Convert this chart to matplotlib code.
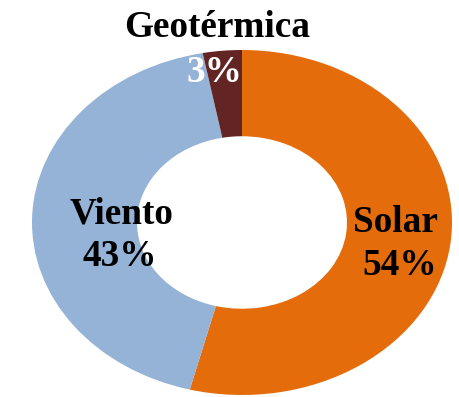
import matplotlib.pyplot as plt

plt.rcParams['font.family'] = ['Liberation Serif', 'DejaVu Serif']

# Energy mix shares (%)
fuentes = ["Solar", "Viento", "Geotérmica"]
porcentajes = [54, 43, 3]
colores = ["#E46C0A", "#95B3D7", "#632523"]

fig = plt.figure(figsize=(4.59, 3.97), dpi=100)
W, H = 459, 397
# axes box spans the donut's bounding box (pixels)
left, right, top, bottom = 32, 452, 50, 395
ax = fig.add_axes([left / W, (H - bottom) / H, (right - left) / W, (bottom - top) / H])

ax.pie(porcentajes, colors=colores, startangle=90, counterclock=False,
       radius=1.0, wedgeprops=dict(width=0.5, linewidth=0))
ax.set_aspect('auto')
ax.set_xlim(-1, 1)
ax.set_ylim(-1, 1)
ax.axis('off')

estilo = dict(fontsize=26.8, fontweight='bold', ha='center', va='center')

# Solar
ax.text(0.73, 0.0, fuentes[0], color='black', **estilo)
ax.text(0.75, -0.25, f"{porcentajes[0]}%", color='black', **estilo)
# Viento
ax.text(-0.575, 0.05, fuentes[1], color='black', **estilo)
ax.text(-0.58, -0.20, f"{porcentajes[1]}%", color='black', **estilo)
# Geotérmica
ax.text(-0.12, 1.13, fuentes[2], color='black', **estilo)
ax.text(-0.13, 0.87, f"{porcentajes[2]}%", color='white', **estilo)

fig.savefig("out.png", dpi=100, facecolor='white')
